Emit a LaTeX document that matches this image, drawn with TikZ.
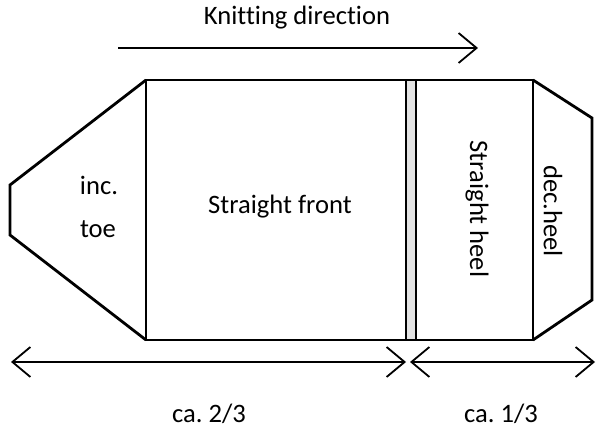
\documentclass[tikz,border=0pt]{standalone}
\usepackage{fontspec}
\setmainfont{Carlito}[Ligatures=NoCommon]
\frenchspacing
\usetikzlibrary{arrows.meta, positioning}

\begin{document}
\begin{tikzpicture}[x=1pt, y=-1pt,
  outline/.style={line width=2.8pt, line join=miter},
  barb/.tip={Straight Barb[length=18pt, width=30pt]},
  dimarrow/.style={line width=1.8pt, barb-barb},
  dirarrow/.style={line width=1.8pt, -barb},
  txt/.style={font=\fontsize{26.6}{30}\selectfont, inner sep=0pt}]
  \useasboundingbox (0,0) rectangle (603,435);

  % corner points of the sock outline
  \coordinate (toeA) at (10,185);
  \coordinate (toeB) at (10,235);
  \coordinate (frontTL) at (146,80);
  \coordinate (frontBL) at (146,340);
  \coordinate (heelTR) at (533,80);
  \coordinate (heelBR) at (533,340);
  \coordinate (decA) at (592,118);
  \coordinate (decB) at (592,300);

  % gray seam strip
  \fill[gray!22] (406,80) rectangle (416,340);

  \draw[outline] (frontTL) -- (toeA) -- (toeB) -- (frontBL);
  \draw[outline] (frontTL) rectangle (heelBR);
  \draw[outline] (406,80) -- (406,340);
  \draw[outline] (416,80) -- (416,340);
  \draw[outline] (heelTR) -- (decA) -- (decB) -- (heelBR);

  % labels
  \node[txt] (knit) at (297,18) {Knitting direction};
  \node[txt] (inc) at (99,185) {inc.};
  \node[txt] (toe) at (98,229) {toe};
  \node[txt] (front) at (280,207) {Straight front};
  \node[txt, rotate=-90] (heel) at (477,209) {Straight heel};
  \node[txt, rotate=-90] (dec) at (553,211) {dec.heel};
  \node[txt] (twothird) at (209,414) {ca. 2/3};
  \node[txt] (onethird) at (501,414) {ca. 1/3};

  % arrows
  \coordinate (dirS) at (118,48);
  \coordinate (dirE) at (478,48);
  \coordinate (dimL) at (11,362);
  \coordinate (dimM) at (406,362);
  \coordinate (dimN) at (410,362);
  \coordinate (dimR) at (595,362);
  \draw[dirarrow] (dirS) -- (dirE);
  \draw[dimarrow] (dimL) -- (dimM);
  \draw[dimarrow] (dimN) -- (dimR);
\end{tikzpicture}
\end{document}
